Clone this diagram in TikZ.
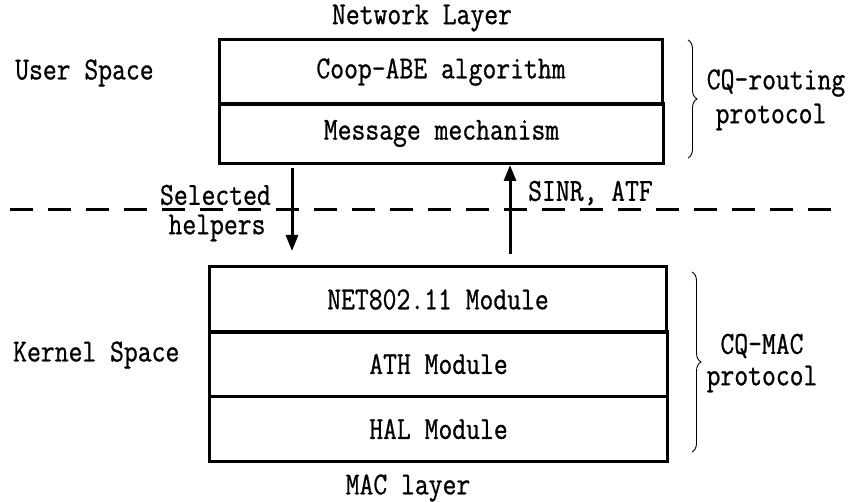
\documentclass[tikz,border=0pt]{standalone}
\usepackage{fontspec}
\setmainfont[FakeStretch=0.84, FakeBold=0.8]{Latin Modern Mono}
\usetikzlibrary{arrows.meta,decorations.pathreplacing}
\begin{document}
\begin{tikzpicture}[x=1pt,y=-1pt,
  every node/.style={font=\fontsize{32}{37}\selectfont, inner sep=0pt},
  layerbox/.style={draw, line width=3pt, rectangle, anchor=north west},
  flow/.style={line width=3pt, -{Triangle[length=16pt,width=12pt]}},
  curly/.style={decorate, decoration={brace, amplitude=9pt}, line width=0.9pt},
  sep/.style={line width=3pt, dash pattern=on 23pt off 15pt}]
\useasboundingbox (0,0) rectangle (848,502);

% user-space stack
\node[layerbox, minimum width=443pt, minimum height=65pt] (coop) at (218,38) {};
\node at (coop.center) {Coop-ABE algorithm};
\node[layerbox, minimum width=444pt, minimum height=60pt] (msg) at (218,102) {};
\node at (msg.center) {Message mechanism};

% kernel-space stack
\node[layerbox, minimum width=457pt, minimum height=66pt] (net) at (208,265) {};
\node at (net.center) {NET802.11 Module};
\node[layerbox, minimum width=458pt, minimum height=65pt] (ath) at (208,330) {};
\node at (ath.center) {ATH Module};
\node[layerbox, minimum width=458pt, minimum height=65pt] (hal) at (208,395) {};
\node at (hal.center) {HAL Module};

% side labels
\node (netlayer) at (422,18) {Network Layer};
\node (maclayer) at (408,488) {MAC layer};
\node[anchor=west] (user) at (15,73) {User Space};
\node[anchor=west] (kernel) at (13,355) {Kernel Space};

% user / kernel boundary
\coordinate (sepL) at (10,210);
\coordinate (sepR) at (832,210);
\draw[sep] (sepL) -- (sepR);

% data flow between the layers
\coordinate (downS) at (292,168);
\coordinate (downE) at (292,251);
\draw[flow] (downS) -- (downE);
\coordinate (upS) at (510,254);
\draw[flow] (upS) -- (upS |- msg.south);

\node[anchor=east] (sel) at (271,195) {Selected};
\node (help) at (217,228) {helpers};
\node[anchor=west] (sinr) at (528,193) {SINR, ATF};

% protocol braces
\coordinate (b1t) at (688,40);
\coordinate (b1b) at (688,158);
\draw[curly] (b1t) -- (b1b);
\node (cqr) at (776,83) {CQ-routing};
\node (cqrp) at (771,117) {protocol};

\coordinate (b2t) at (692,272);
\coordinate (b2b) at (692,452);
\draw[curly] (b2t) -- (b2b);
\node (cqm) at (762,346) {CQ-MAC};
\node (cqmp) at (762,379) {protocol};
\end{tikzpicture}
\end{document}
